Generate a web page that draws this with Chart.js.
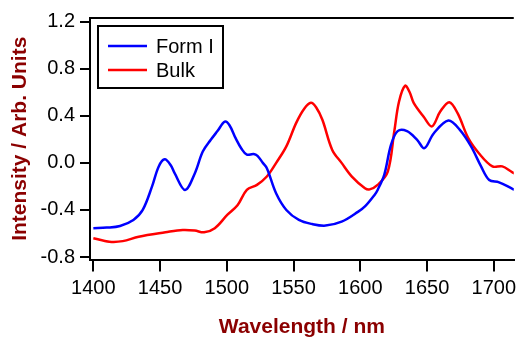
<!DOCTYPE html>
<html>
<head>
<meta charset="utf-8">
<script src="https://cdn.jsdelivr.net/npm/chart.js@4/dist/chart.umd.min.js"></script>
<style>
  html, body { margin: 0; padding: 0; background: #fff; }
  #wrap { width: 521px; height: 337px; }
</style>
</head>
<body>
<div id="wrap"><canvas id="grafico" width="521" height="337"></canvas></div>
<script>
// valores
const formIComprimento = [1400, 1410, 1420, 1430, 1437, 1444, 1449, 1453.5, 1458, 1461, 1468.7, 1476, 1482, 1488, 1493, 1498.5, 1502, 1506.6, 1511, 1515, 1520, 1523, 1527, 1530, 1537, 1544.6, 1554, 1564, 1574, 1586, 1598.5, 1603.5, 1610.8, 1613, 1618, 1623, 1628, 1635, 1642.6, 1648, 1655, 1666, 1674.6, 1683, 1690.5, 1696.6, 1704, 1714, 1720];
const formIValores = [-0.555, -0.55, -0.536, -0.485, -0.40, -0.20, -0.03, 0.03, -0.02, -0.09, -0.23, -0.09, 0.096, 0.196, 0.27, 0.35, 0.32, 0.21, 0.12, 0.07, 0.075, 0.06, 0.0, -0.045, -0.26, -0.40, -0.485, -0.52, -0.533, -0.50, -0.414, -0.37, -0.27, -0.23, -0.10, 0.153, 0.27, 0.27, 0.196, 0.125, 0.25, 0.36, 0.28, 0.14, -0.03, -0.145, -0.165, -0.22, -0.25];

const bulkComprimento = [1400, 1412, 1422, 1434, 1454, 1467, 1476, 1483, 1491, 1500.5, 1508, 1515, 1522.6, 1530, 1537, 1544.6, 1552, 1558, 1563, 1567, 1571.6, 1579, 1586, 1593.7, 1603.5, 1607, 1613, 1620.6, 1625.5, 1629, 1633.6, 1637, 1640, 1647.6, 1653.7, 1659.9, 1666.7, 1673, 1680.9, 1689, 1699, 1706.4, 1714, 1720];
const bulkValores = [-0.64, -0.67, -0.665, -0.627, -0.59, -0.57, -0.575, -0.59, -0.555, -0.44, -0.36, -0.23, -0.187, -0.116, 0.0, 0.14, 0.34, 0.46, 0.51, 0.47, 0.366, 0.11, 0.0, -0.116, -0.215, -0.225, -0.187, -0.074, 0.27, 0.52, 0.655, 0.6, 0.51, 0.39, 0.31, 0.436, 0.516, 0.42, 0.21, 0.08, -0.03, -0.03, -0.08, -0.11];

const ticksX = [1400, 1450, 1500, 1550, 1600, 1650, 1700];
const ticksY = [-0.8, -0.4, 0.0, 0.4, 0.8, 1.2];

const fonte = "'Liberation Sans', Arial, sans-serif";

function pontos(xs, ys) {
    return xs.map((x, i) => ({ x: x, y: ys[i] }));
}

// moldura superior + legenda em caixa dentro do gráfico
const molduraELegenda = {
    id: "molduraELegenda",
    afterDraw(chart) {
        const ctx = chart.ctx;
        const area = chart.chartArea;
        ctx.save();
        ctx.strokeStyle = "#000";
        ctx.lineWidth = 2;
        ctx.beginPath();
        ctx.moveTo(area.left - 1, area.top);
        ctx.lineTo(area.right, area.top);
        ctx.stroke();

        ctx.fillStyle = "#fff";
        ctx.fillRect(98, 26, 125, 62);
        ctx.strokeRect(98, 26, 125, 62);

        ctx.font = "20px " + fonte;
        ctx.textBaseline = "middle";
        chart.data.datasets.forEach((ds, i) => {
            const y = 46 + i * 24;
            ctx.strokeStyle = ds.borderColor;
            ctx.lineWidth = 2.5;
            ctx.beginPath();
            ctx.moveTo(108, y);
            ctx.lineTo(147, y);
            ctx.stroke();
            ctx.fillStyle = "#000";
            ctx.fillText(ds.label, 156, y + 1);
        });
        ctx.restore();
    }
};

new Chart(document.getElementById("grafico").getContext("2d"), {
    type: "line",
    data: {
        datasets: [{
            label: "Form I",
            data: pontos(formIComprimento, formIValores),
            borderColor: "#0000ff",
            borderWidth: 2.5,
            pointRadius: 0,
            tension: 0.35
        }, {
            label: "Bulk",
            data: pontos(bulkComprimento, bulkValores),
            borderColor: "#ff0000",
            borderWidth: 2.5,
            pointRadius: 0,
            tension: 0.35
        }]
    },
    options: {
        responsive: false,
        animation: false,
        layout: { padding: { top: 18, right: 0, left: 0, bottom: 0 } },
        plugins: {
            legend: { display: false },
            tooltip: { enabled: false }
        },
        scales: {
            x: {
                type: "linear",
                min: 1397.5,
                max: 1715,
                afterBuildTicks: s => { s.ticks = ticksX.map(v => ({ value: v })); },
                afterFit: s => { s.height = 77.5; },
                grid: { drawOnChartArea: false, drawTicks: true, tickLength: 12, color: "#000", lineWidth: 2 },
                border: { display: true, color: "#000", width: 2 },
                ticks: {
                    color: "#000",
                    font: { family: fonte, size: 20 },
                    padding: 5,
                    maxRotation: 0,
                    callback: v => String(v)
                },
                title: {
                    display: true,
                    text: "Wavelength / nm",
                    color: "#8b0000",
                    font: { family: fonte, size: 21, weight: "bold" },
                    padding: { top: 0, bottom: -3 }
                }
            },
            y: {
                min: -0.821,
                max: 1.231,
                afterBuildTicks: s => { s.ticks = ticksY.map(v => ({ value: v })); },
                afterFit: s => { s.width = 90; },
                grid: { drawOnChartArea: false, drawTicks: true, tickLength: 10, color: "#000", lineWidth: 2 },
                border: { display: true, color: "#000", width: 2 },
                ticks: {
                    color: "#000",
                    font: { family: fonte, size: 20 },
                    padding: 5,
                    callback: v => v.toFixed(1)
                },
                title: {
                    display: true,
                    text: "Intensity / Arb. Units",
                    color: "#8b0000",
                    font: { family: fonte, size: 21, weight: "bold" },
                    padding: { top: 8, bottom: 0 }
                }
            }
        }
    },
    plugins: [molduraELegenda]
});
</script>
</body>
</html>
